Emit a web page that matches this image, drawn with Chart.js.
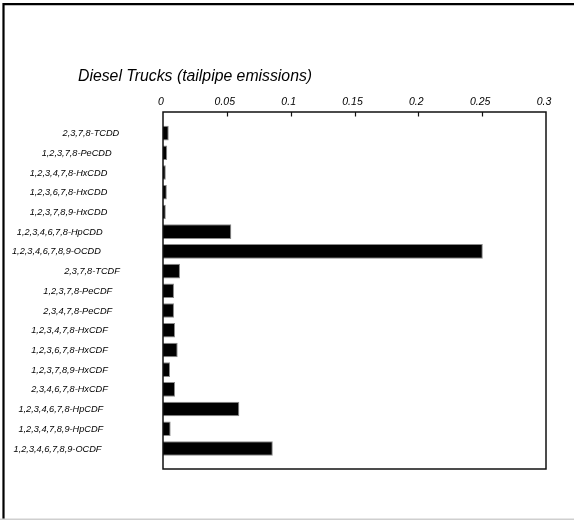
<!DOCTYPE html>
<html>
<head>
<meta charset="utf-8">
<title>Diesel Trucks (tailpipe emissions)</title>
<script src="https://cdn.jsdelivr.net/npm/chart.js@4"></script>
<style>
  html, body { margin: 0; padding: 0; background: #fff; }
  #wrap { position: relative; width: 574px; height: 520px; }
</style>
</head>
<body>
<div id="wrap"><canvas id="chart" width="574" height="520"></canvas></div>
<script>
// Congener names, listed top to bottom
const categories = [
  '2,3,7,8-TCDD',
  '1,2,3,7,8-PeCDD',
  '1,2,3,4,7,8-HxCDD',
  '1,2,3,6,7,8-HxCDD',
  '1,2,3,7,8,9-HxCDD',
  '1,2,3,4,6,7,8-HpCDD',
  '1,2,3,4,6,7,8,9-OCDD',
  '2,3,7,8-TCDF',
  '1,2,3,7,8-PeCDF',
  '2,3,4,7,8-PeCDF',
  '1,2,3,4,7,8-HxCDF',
  '1,2,3,6,7,8-HxCDF',
  '1,2,3,7,8,9-HxCDF',
  '2,3,4,6,7,8-HxCDF',
  '1,2,3,4,6,7,8-HpCDF',
  '1,2,3,4,7,8,9-HpCDF',
  '1,2,3,4,6,7,8,9-OCDF'
];

// Emission per congener
const emissions = [
  0.0045, 0.0033, 0.0022, 0.003, 0.0022, 0.0535, 0.2505,
  0.0133, 0.0086, 0.0086, 0.0094, 0.0115, 0.0055, 0.0094,
  0.0598, 0.006, 0.086
];

// Value axis tick labels
const xTickValues = [0, 0.05, 0.1, 0.15, 0.2, 0.25, 0.3];

const chartTitle = 'Diesel Trucks (tailpipe emissions)';

const labelFont = 'italic 9.2px "Liberation Sans", Arial, sans-serif';
const titleFont = 'italic 15.8px "Liberation Sans", Arial, sans-serif';

// Page frame, plot box, inner tick marks, category labels and heading
const decorations = {
  id: 'decorations',
  beforeDraw(chart) {
    const ctx = chart.ctx;
    ctx.save();
    ctx.fillStyle = '#fff';
    ctx.fillRect(0, 0, chart.width, chart.height);
    // page frame: heavy top and left rules, faint bottom rule
    ctx.strokeStyle = '#000';
    ctx.lineWidth = 2.2;
    ctx.beginPath();
    ctx.moveTo(3.5, 519);
    ctx.lineTo(3.5, 4.1);
    ctx.lineTo(chart.width, 4.1);
    ctx.stroke();
    ctx.strokeStyle = '#cfcfcf';
    ctx.lineWidth = 1.5;
    ctx.beginPath();
    ctx.moveTo(0, 519.2);
    ctx.lineTo(chart.width, 519.2);
    ctx.stroke();
    // heading
    ctx.fillStyle = '#000';
    ctx.font = titleFont;
    ctx.textAlign = 'left';
    ctx.textBaseline = 'middle';
    ctx.fillText(chartTitle, 78, 76.5);
    ctx.restore();
  },
  afterDatasetsDraw(chart) {
    const ctx = chart.ctx;
    const a = chart.chartArea;
    const xs = chart.scales.x;
    const ys = chart.scales.y;
    ctx.save();
    // plot box
    ctx.strokeStyle = '#111';
    ctx.lineWidth = 1.5;
    ctx.strokeRect(a.left, a.top, a.right - a.left, a.bottom - a.top);
    // tick marks pointing into the box
    ctx.lineWidth = 1.2;
    ctx.beginPath();
    xTickValues.slice(1, -1).forEach(v => {
      const px = Math.round(xs.getPixelForValue(v)) + 0.5;
      ctx.moveTo(px, a.top);
      ctx.lineTo(px, a.top + 4.5);
    });
    ctx.stroke();
    // category labels, staggered by their length
    ctx.fillStyle = '#000';
    ctx.font = labelFont;
    ctx.textAlign = 'center';
    ctx.textBaseline = 'middle';
    categories.forEach((name, i) => {
      const w = ctx.measureText(name).width;
      const cx = 151.5 - 1.07 * w;
      ctx.fillText(name, cx, ys.getPixelForValue(i) + 0.5);
    });
    ctx.restore();
  }
};

new Chart(document.getElementById('chart'), {
  type: 'bar',
  data: {
    datasets: [{
      data: emissions.map((v, i) => ({ x: v, y: i })),
      backgroundColor: '#000',
      borderColor: '#8a8a8a',
      borderWidth: 1,
      borderSkipped: 'start',
      barPercentage: 0.74,
      categoryPercentage: 1
    }]
  },
  options: {
    indexAxis: 'y',
    responsive: false,
    animation: false,
    events: [],
    layout: { padding: { left: 163, right: 28, top: 91.4, bottom: 51 } },
    plugins: {
      legend: { display: false },
      title: { display: false },
      tooltip: { enabled: false }
    },
    scales: {
      x: {
        type: 'linear',
        position: 'top',
        min: 0,
        max: 0.3,
        afterBuildTicks(scale) {
          scale.ticks = xTickValues.map(v => ({ value: v }));
        },
        ticks: {
          color: '#000',
          padding: 4,
          labelOffset: -2,
          maxRotation: 0,
          font: { family: '"Liberation Sans", Arial, sans-serif', size: 10.5, style: 'italic', lineHeight: 1.2 },
          callback: v => String(v)
        },
        grid: { display: false, drawTicks: false },
        border: { display: false }
      },
      y: {
        type: 'linear',
        display: false,
        reverse: true,
        offset: false,
        min: -1.07,
        max: 17.04,
        afterBuildTicks(scale) {
          scale.ticks = categories.map((_, i) => ({ value: i }));
        }
      }
    }
  },
  plugins: [decorations]
});
</script>
</body>
</html>
